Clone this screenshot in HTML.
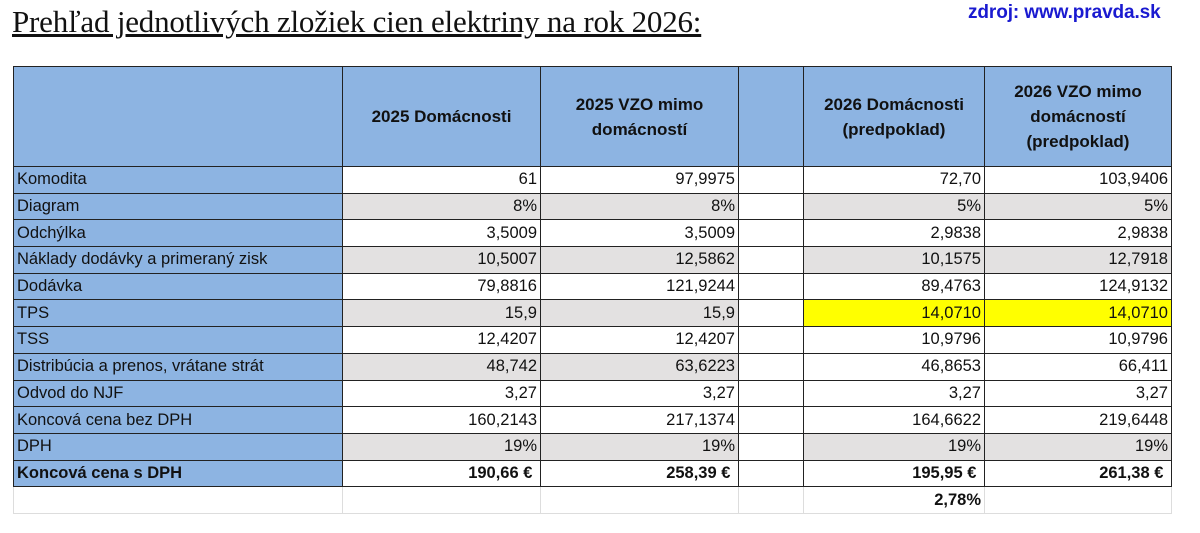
<!DOCTYPE html>
<html><head><meta charset="utf-8"><style>
body{margin:0;width:1200px;height:533px;background:#fff;overflow:hidden;position:relative;font-family:"Liberation Sans",sans-serif}
#title{position:absolute;left:12px;top:4px;font-family:"Liberation Serif",serif;font-size:31px;text-decoration:underline;color:#111;letter-spacing:-0.2px}
#src{position:absolute;left:968px;top:2px;font-size:19px;font-weight:bold;color:#1a1ad0;letter-spacing:-0.1px}
table{position:absolute;left:13px;top:66px;border-collapse:collapse;table-layout:fixed;font-size:16.5px;color:#111}
td{padding:0 3px;height:25.7px;border:1.5px solid #222;text-align:right;white-space:nowrap;overflow:hidden}
td.l{text-align:left;background:#8db4e2}
tr.h td{background:#8db4e2;height:99px;text-align:center;font-weight:bold;line-height:25px;font-size:17px}
tr.g td{background:#e3e1e1}
tr.g td.l{background:#8db4e2}
tr.g td.w{background:#fff}
td.y{background:#ffff00 !important}
tr.b td{font-weight:bold}
tr.e td{border:1px solid #ddd;background:#fff}
</style></head><body>
<div id="title">Prehľad jednotlivých zložiek cien elektriny na rok 2026:</div>
<div id="src">zdroj: www.pravda.sk</div>
<table>
<colgroup><col style="width:329px"><col style="width:198px"><col style="width:198px"><col style="width:65px"><col style="width:181px"><col style="width:187px"></colgroup>
<tr class="h"><td></td><td>2025 Domácnosti</td><td>2025 VZO mimo<br>domácností</td><td></td><td>2026 Domácnosti<br>(predpoklad)</td><td>2026 VZO mimo<br>domácností<br>(predpoklad)</td></tr>
<tr><td class="l">Komodita</td><td>61</td><td>97,9975</td><td></td><td>72,70</td><td>103,9406</td></tr>
<tr class="g"><td class="l">Diagram</td><td>8%</td><td>8%</td><td class="w"></td><td>5%</td><td>5%</td></tr>
<tr><td class="l">Odchýlka</td><td>3,5009</td><td>3,5009</td><td></td><td>2,9838</td><td>2,9838</td></tr>
<tr class="g"><td class="l">Náklady dodávky a primeraný zisk</td><td>10,5007</td><td>12,5862</td><td class="w"></td><td>10,1575</td><td>12,7918</td></tr>
<tr><td class="l">Dodávka</td><td>79,8816</td><td>121,9244</td><td></td><td>89,4763</td><td>124,9132</td></tr>
<tr class="g"><td class="l">TPS</td><td>15,9</td><td>15,9</td><td class="w"></td><td class="y">14,0710</td><td class="y">14,0710</td></tr>
<tr><td class="l">TSS</td><td>12,4207</td><td>12,4207</td><td></td><td>10,9796</td><td>10,9796</td></tr>
<tr class="g"><td class="l">Distribúcia a prenos, vrátane strát</td><td>48,742</td><td>63,6223</td><td class="w"></td><td class="w">46,8653</td><td class="w">66,411</td></tr>
<tr><td class="l">Odvod do NJF</td><td>3,27</td><td>3,27</td><td></td><td>3,27</td><td>3,27</td></tr>
<tr><td class="l">Koncová cena bez DPH</td><td>160,2143</td><td>217,1374</td><td></td><td>164,6622</td><td>219,6448</td></tr>
<tr class="g"><td class="l">DPH</td><td>19%</td><td>19%</td><td class="w"></td><td>19%</td><td>19%</td></tr>
<tr class="b"><td class="l">Koncová cena s DPH</td><td>190,66 €&nbsp;</td><td>258,39 €&nbsp;</td><td></td><td>195,95 €&nbsp;</td><td>261,38 €&nbsp;</td></tr>
<tr class="e b"><td></td><td></td><td></td><td></td><td>2,78%</td><td></td></tr>
</table>
</body></html>
